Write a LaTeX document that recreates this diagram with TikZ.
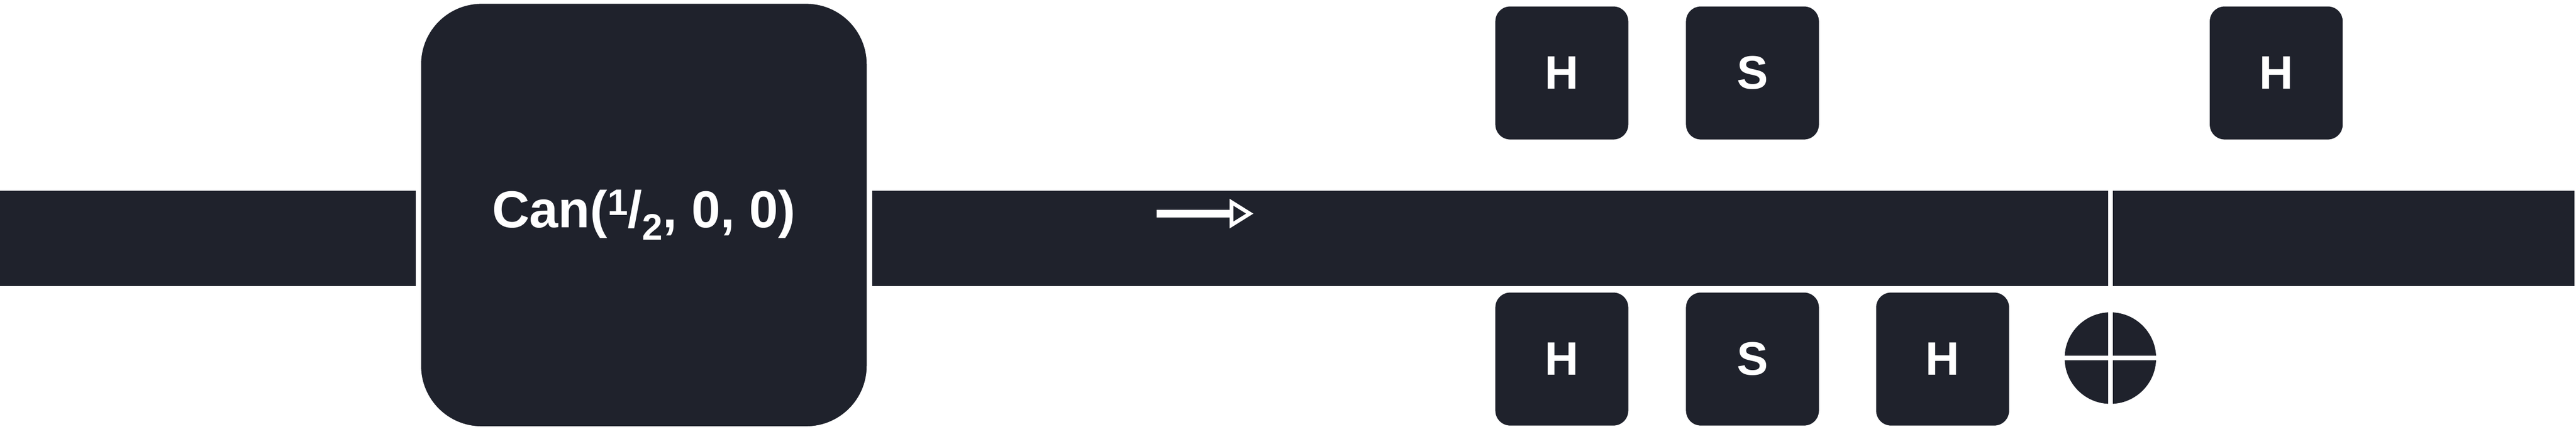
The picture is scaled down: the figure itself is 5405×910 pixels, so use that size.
\documentclass[tikz,border=0pt]{standalone}
\usepackage{fontspec}
\setmainfont{Liberation Sans}
\usetikzlibrary{arrows.meta,positioning}
\definecolor{ink}{HTML}{1F222C}
\tikzset{
  wire/.style={fill=ink, draw=white, line width=0.3mm},
  gate/.style={fill=ink, draw=white, line width=0.8mm, rounded corners=3.5mm,
    minimum width=28.7mm, minimum height=28.7mm, inner sep=0pt, text=white,
    font=\bfseries\fontsize{28}{28}\selectfont},
  big/.style={fill=ink, draw=white, line width=0.3mm, rounded corners=12.8mm,
    minimum width=93.8mm, minimum height=88.9mm, inner sep=0pt, text=white,
    font=\bfseries\fontsize{31}{31}\selectfont}
}
\begin{document}
\begin{tikzpicture}[x=0.1mm, y=-0.1mm]
  \useasboundingbox (0,0) rectangle (5405,910);
  % wires
  \fill[ink] (0,400) rectangle (872,600);
  \fill[ink] (1830,400) rectangle (4423,600);
  \fill[ink] (4433,400) rectangle (5402,600);
  % big block
  \node[big] (can) at (1351,451) {Can(\raisebox{0.45ex}{\fontsize{22}{22}\selectfont 1}/\raisebox{-0.45ex}{\fontsize{22}{22}\selectfont 2}, 0, 0)};
  % arrow
  \coordinate (a0) at (2427,448);
  \coordinate (a1) at (2630,448);
  \draw[white, line width=1.7mm, -{Triangle[open, length=5mm, width=6mm, line width=0.8mm]}] (a0) -- (a1);
  % top gates
  \node[gate] (h1) at (3277,153) {H};
  \node[gate] (s1) at (3677,153) {S};
  \node[gate] (h2) at (4776,153) {H};
  % bottom gates
  \node[gate] (h3) at (3277,753) {H};
  \node[gate] (s2) at (3677,753) {S};
  \node[gate] (h4) at (4076,753) {H};
  % measurement
  \node[circle, fill=ink, minimum size=19.2mm, inner sep=0pt] (m) at (4428,751) {};
  \draw[white, line width=1mm] (m.north) -- (m.south);
  \draw[white, line width=1mm] (m.west) -- (m.east);
\end{tikzpicture}
\end{document}
